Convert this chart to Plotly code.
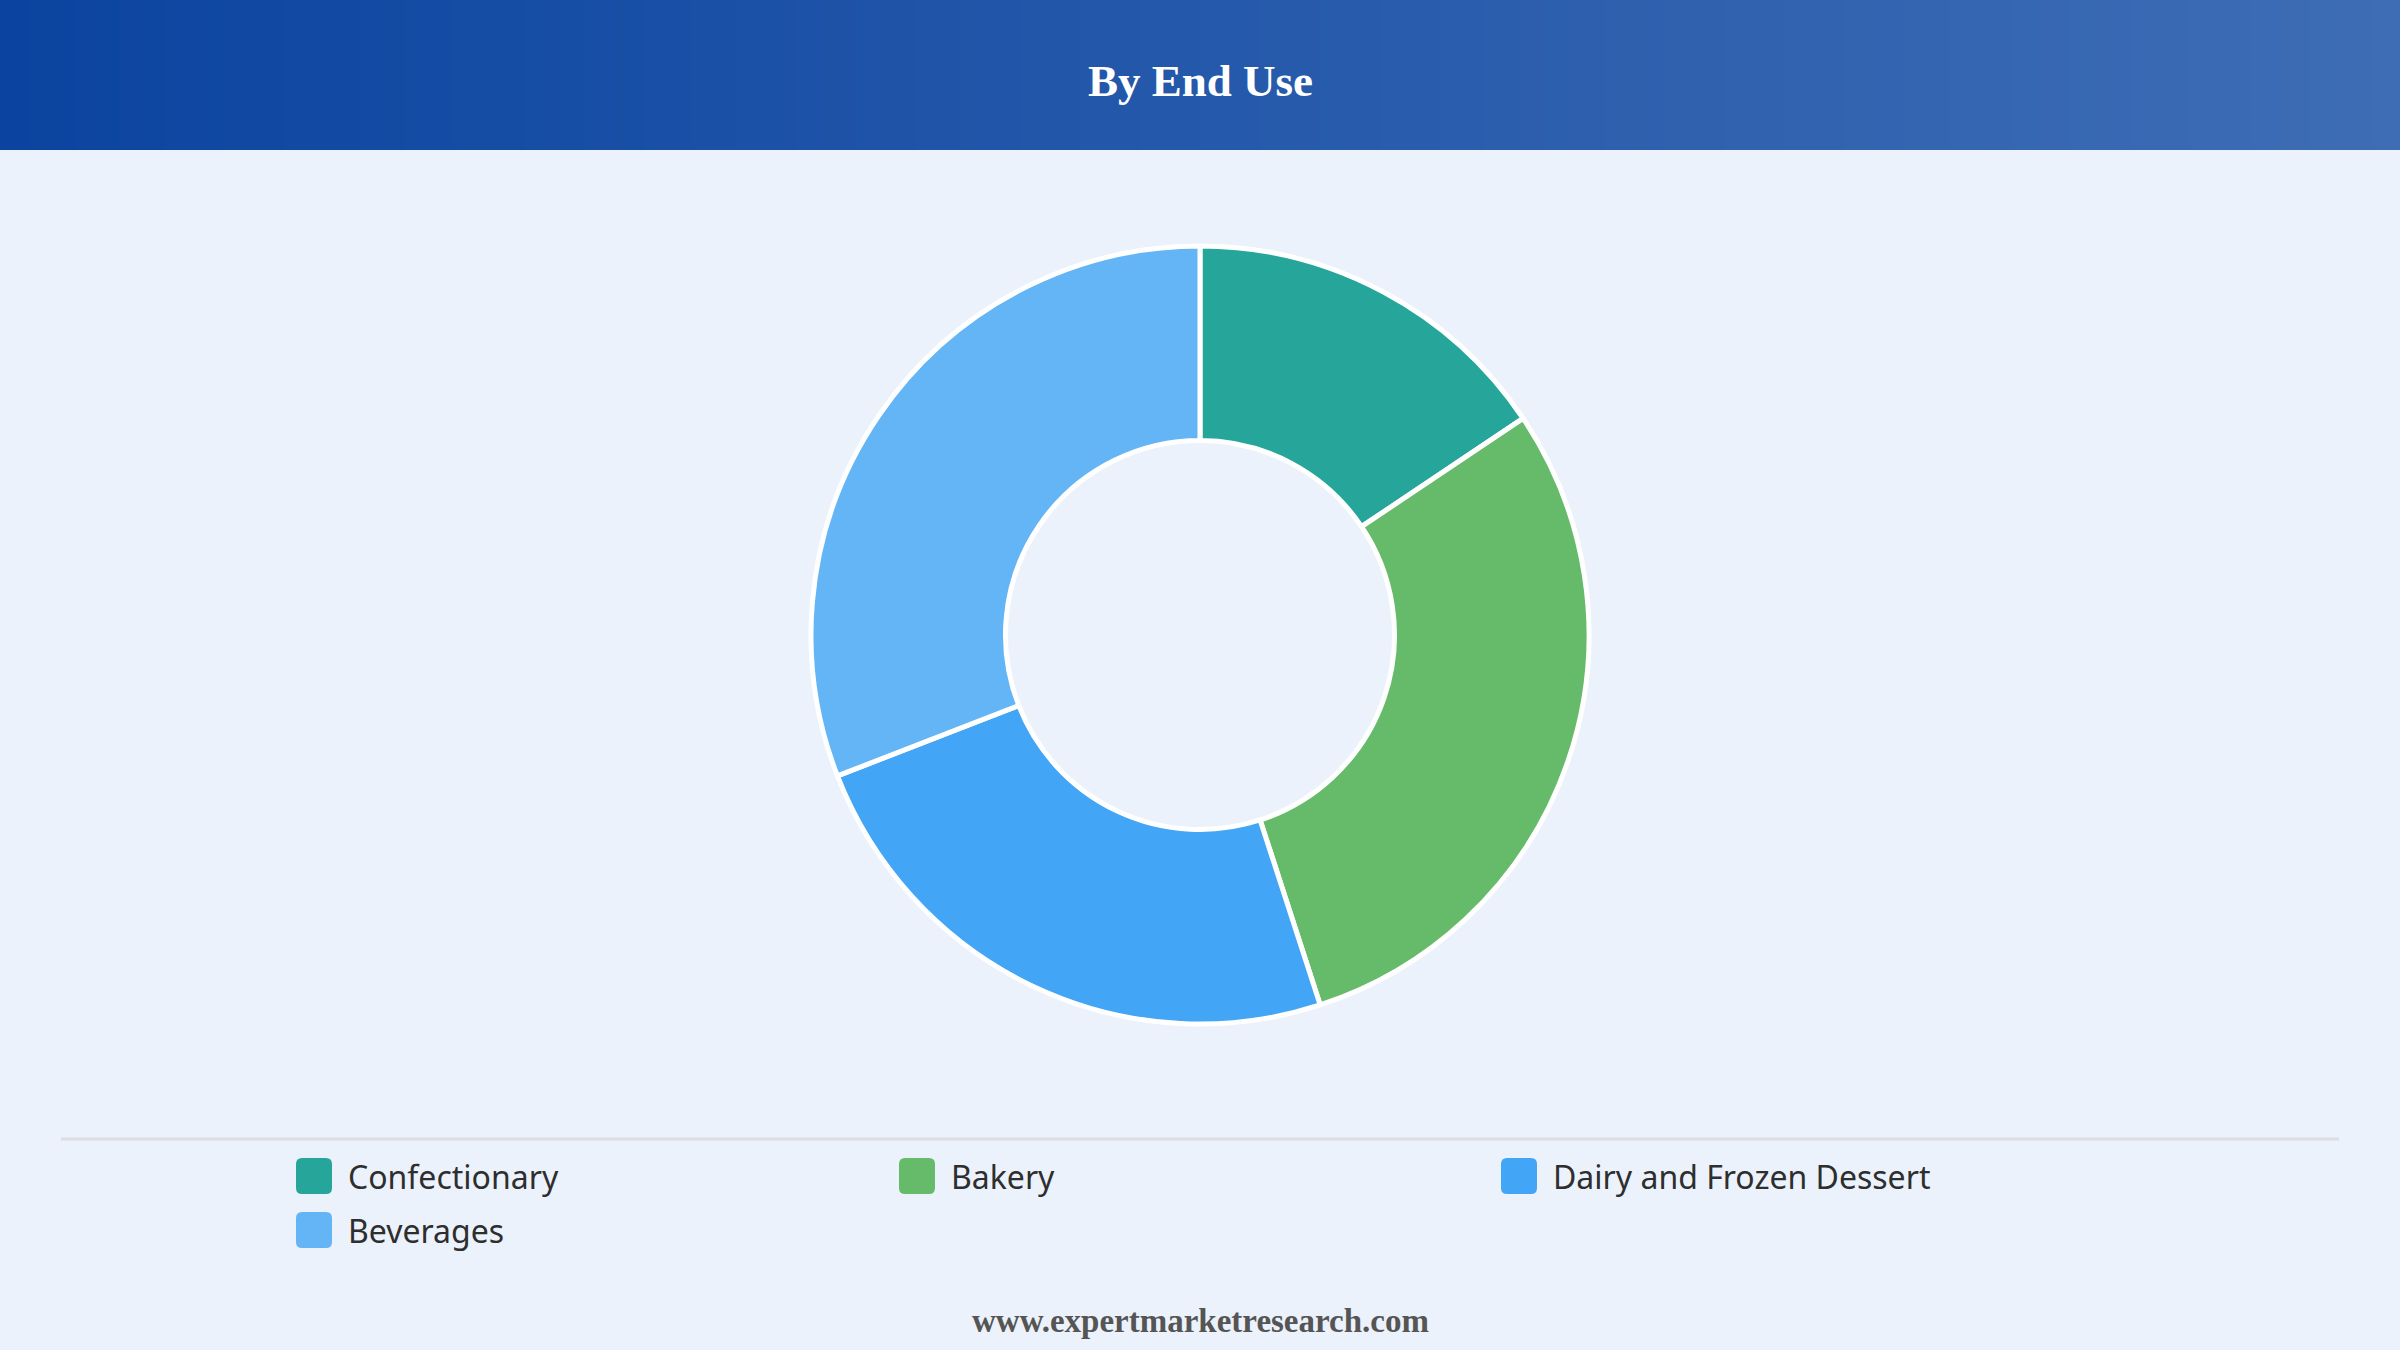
import plotly.graph_objects as go

# ---- data ----
categories = ["Confectionary", "Bakery", "Dairy and Frozen Dessert", "Beverages"]
shares = [15.6, 29.4, 24.1, 30.9]
colors = ["#26A69A", "#66BB6A", "#42A5F5", "#64B5F6"]
title_text = "By End Use"
footer_text = "www.expertmarketresearch.com"

W, H = 2400, 1350
BG = "#EBF2FB"
HEADER_H = 150

fig = go.Figure()

fig.add_trace(go.Pie(
    labels=categories,
    values=shares,
    marker=dict(colors=colors, line=dict(color="white", width=5)),
    hole=0.5,
    sort=False,
    direction="clockwise",
    rotation=0,
    textinfo="none",
    hoverinfo="label+percent",
    showlegend=False,
    domain=dict(x=[0.3, 0.7], y=[1 - (635 + 389) / H, 1 - (635 - 389) / H]),
))

shapes = []
annotations = []

# header gradient (strips)
c0 = (11, 68, 160)
c1 = (62, 109, 181)
N = 160
for i in range(N):
    t = i / (N - 1)
    col = tuple(round(c0[k] + (c1[k] - c0[k]) * t) for k in range(3))
    shapes.append(dict(type="rect", xref="x", yref="y",
                       x0=W * i / N, x1=W * (i + 1) / N + 1, y0=0, y1=HEADER_H,
                       fillcolor="rgb(%d,%d,%d)" % col, line=dict(width=0), layer="below"))

annotations.append(dict(text="<b>%s</b>" % title_text, x=W / 2, y=81, xref="x", yref="y",
                        showarrow=False, xanchor="center", yanchor="middle",
                        font=dict(family="Liberation Serif", size=45, color="white")))

# separator line
shapes.append(dict(type="line", xref="x", yref="y", x0=61, x1=2339, y0=1139, y1=1139,
                   line=dict(color="#DADDE2", width=3)))

# legend
col_x = [296, 899, 1501]
row_y = [1176, 1230]
sw = 36
r = 6
for i, (name, c) in enumerate(zip(categories, colors)):
    cx = col_x[i % 3]
    cy = row_y[i // 3]
    x0, x1 = cx, cx + sw
    y0, y1 = cy - sw / 2, cy + sw / 2
    path = (f"M {x0+r},{y0} L {x1-r},{y0} Q {x1},{y0} {x1},{y0+r} "
            f"L {x1},{y1-r} Q {x1},{y1} {x1-r},{y1} L {x0+r},{y1} "
            f"Q {x0},{y1} {x0},{y1-r} L {x0},{y0+r} Q {x0},{y0} {x0+r},{y0} Z")
    shapes.append(dict(type="path", xref="x", yref="y", path=path,
                       fillcolor=c, line=dict(width=0)))
    annotations.append(dict(text=name, x=cx + 50, y=cy, xref="x", yref="y",
                            showarrow=False, xanchor="left", yanchor="middle",
                            font=dict(family="Noto Sans", size=32, color="#2E2E2E")))

annotations.append(dict(text="<b>%s</b>" % footer_text, x=W / 2, y=1321, xref="x", yref="y",
                        showarrow=False, xanchor="center", yanchor="middle",
                        font=dict(family="Liberation Serif", size=33, color="#555555")))

fig.update_layout(
    width=W, height=H,
    margin=dict(l=0, r=0, t=0, b=0),
    paper_bgcolor=BG, plot_bgcolor=BG,
    xaxis=dict(range=[0, W], visible=False, domain=[0, 1], fixedrange=True),
    yaxis=dict(range=[H, 0], visible=False, domain=[0, 1], fixedrange=True),
    shapes=shapes,
    annotations=annotations,
    showlegend=False,
)

fig.write_html("out.html", config={"displayModeBar": False})
